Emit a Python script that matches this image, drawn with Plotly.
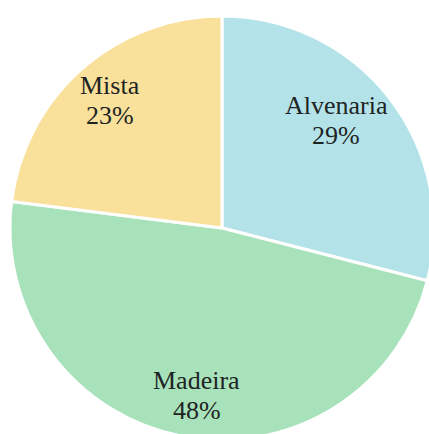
import math
import plotly.graph_objects as go

# Share of buildings by construction type
categories = ["Alvenaria", "Madeira", "Mista"]
shares = [29, 48, 23]
colors = ["#B3E3E8", "#A8E2BA", "#F9E09B"]

# Label placement: fraction of the radius and a small angular nudge (degrees)
label_radius = [0.74, 0.80, 0.80]
label_nudge = [-5.4, -2.3, 0.0]

PLOT_SIZE = 424          # square plotting area in px
FONT = dict(family="Liberation Serif", size=26, color="#1E2424")

fig = go.Figure(
    go.Pie(
        labels=categories,
        values=shares,
        sort=False,
        direction="clockwise",
        rotation=0,
        marker=dict(colors=colors, line=dict(color="#FFFFFF", width=3)),
        textinfo="none",
        showlegend=False,
        hoverinfo="label+percent",
    )
)

# Labels sit on each slice's bisector (clockwise from 12 o'clock)
total = sum(shares)
start = 0.0
for name, val, rf, nudge in zip(categories, shares, label_radius, label_nudge):
    sweep = 360.0 * val / total
    mid = math.radians(start + sweep / 2 + nudge)
    start += sweep
    x = 0.5 + 0.5 * rf * math.sin(mid)
    y = 0.5 + 0.5 * rf * math.cos(mid)
    pct = f"{round(100 * val / total)}%"
    for text, shift in ((name, 15), (pct, -15)):
        fig.add_annotation(
            x=x, y=y, xref="paper", yref="paper",
            text=text, showarrow=False,
            xanchor="center", yanchor="middle", yshift=shift,
            font=FONT,
        )

# The disc is slightly larger than the visible window, so it runs off the
# right and bottom edges.
fig.update_layout(
    width=434,
    height=440,
    margin=dict(l=10, r=0, t=16, b=0),
    paper_bgcolor="#FFFFFF",
    plot_bgcolor="#FFFFFF",
)

fig.write_html(
    "out.html",
    post_script="document.body.style.overflow='hidden';document.body.style.margin='0';",
)
